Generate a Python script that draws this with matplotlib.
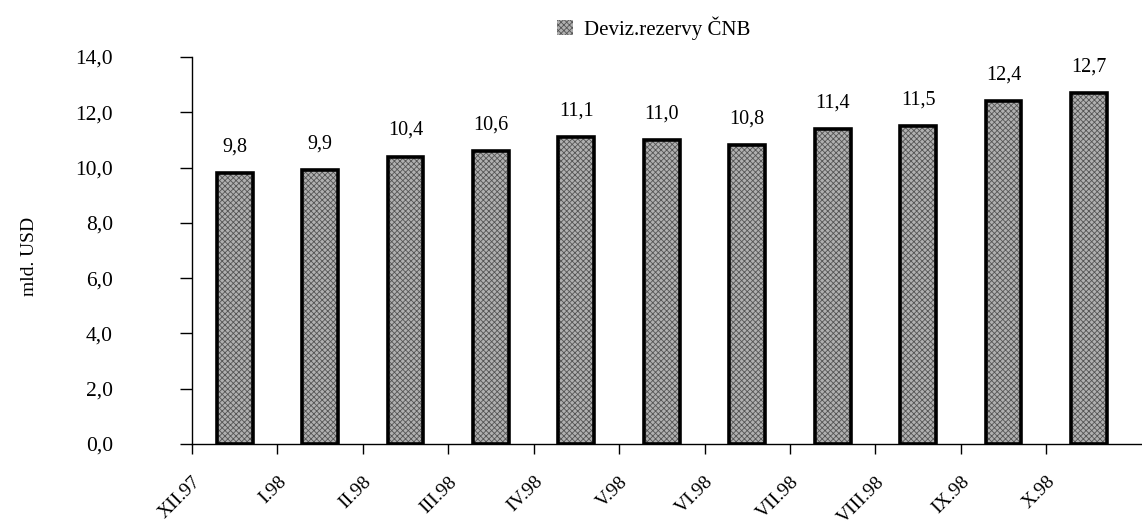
import matplotlib.pyplot as plt
import numpy as np

# data
months = ['XII.97', 'I.98', 'II.98', 'III.98', 'IV.98', 'V.98',
          'VI.98', 'VII.98', 'VIII.98', 'IX.98', 'X.98']
reserves = [9.8, 9.9, 10.4, 10.6, 11.1, 11.0, 10.8, 11.4, 11.5, 12.4, 12.7]
yticks = [0, 2, 4, 6, 8, 10, 12, 14]

plt.rcParams['font.family'] = ['Liberation Serif', 'DejaVu Serif']
plt.rcParams['hatch.linewidth'] = 0.6

fig = plt.figure(figsize=(11.42, 5.28), dpi=100)
ax = fig.add_axes([192 / 1142, 1 - 444 / 528, (1141 - 192) / 1142, (444 - 57) / 528])

x = np.arange(len(months))
# stippled fill, then thick black outline
ax.bar(x, reserves, width=0.42, color='#b0b0b0', hatch='xxxxxx',
       edgecolor='#555555', linewidth=0, label='Deviz.rezervy ČNB')
ax.bar(x, reserves, width=0.42, fill=False, edgecolor='black', linewidth=2.6)

for xi, v in zip(x, reserves):
    ax.text(xi, v + 0.6, f'{v:.1f}'.replace('.', ','), ha='center', va='bottom',
            fontsize=14.5)

ax.set_xlim(-0.5, 10.61)
ax.set_ylim(0, 14)
ax.set_yticks(yticks)
ax.set_yticklabels([f'{t:.1f}'.replace('.', ',') for t in yticks], fontsize=15.5)
ax.set_xticks(x - 0.5)
ax.set_xticklabels(months, rotation=45, ha='right', rotation_mode='anchor', fontsize=14)
ax.tick_params(axis='y', length=9, width=1, pad=48)
ax.tick_params(axis='x', length=7, width=1, pad=14)

for s in ['top', 'right']:
    ax.spines[s].set_visible(False)
ax.spines['left'].set_linewidth(1)
ax.spines['bottom'].set_linewidth(1)

fig.text(30 / 1142, 1 - 256 / 528, 'mld. USD', rotation=90, ha='center', va='center',
         fontsize=14)

h, l = ax.get_legend_handles_labels()
fig.legend(h[:1], l[:1], loc='center left', bbox_to_anchor=(538 / 1142, 1 - 28 / 528),
           frameon=False, fontsize=15, handlelength=0.8, handleheight=0.8,
           handletextpad=0.5)

fig.savefig('out.png', dpi=100)
